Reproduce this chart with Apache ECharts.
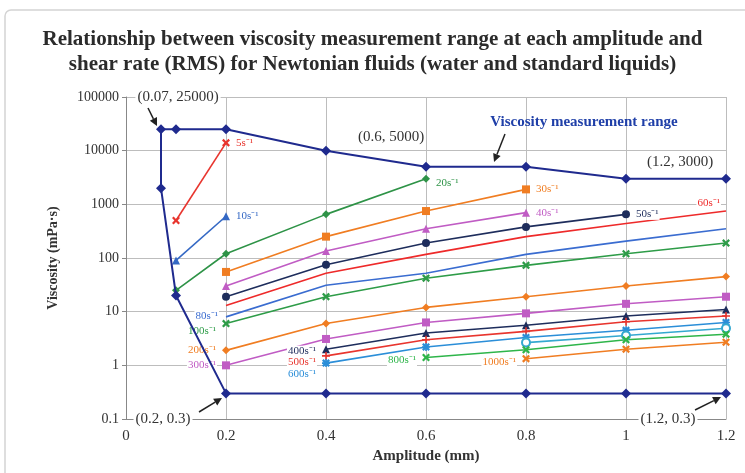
<!DOCTYPE html>
<html>
<head>
<meta charset="utf-8">
<script src="https://cdn.jsdelivr.net/npm/echarts@6/dist/echarts.min.js"></script>
<style>
  html, body { margin: 0; padding: 0; background: #fff; }
  #chart { width: 745px; height: 473px; }
</style>
</head>
<body>
<div id="chart"></div>
<script>
// measurement range boundary (upper and lower edge)
var rangeUpperX = [0.07, 0.1, 0.2, 0.4, 0.6, 0.8, 1.0, 1.2];
var rangeUpperY = [25000, 25000, 25000, 10000, 5000, 5000, 3000, 3000];
var rangeLowerX = [0.07, 0.1, 0.2, 0.4, 0.6, 0.8, 1.0, 1.2];
var rangeLowerY = [2000, 20, 0.3, 0.3, 0.3, 0.3, 0.3, 0.3];

// shear rate curves, one value per amplitude (null = not measured)
var amplitudes = [0.1, 0.2, 0.4, 0.6, 0.8, 1.0, 1.2];
var v5    = [500, 14000, null, null, null, null, null];
var v10   = [90, 600, null, null, null, null, null];
var v20   = [25, 120, 650, 3000, null, null, null];
var v30   = [null, 55, 250, 750, 1900, null, null];
var v40   = [null, 30, 135, 350, 700, null, null];
var v50   = [null, 19, 75, 190, 380, 650, null];
var v60   = [null, 13, 52, 117, 250, 440, 750];
var v80   = [null, 8, 31, 52, 117, 206, 350];
var v100  = [null, 6, 19, 42, 73, 120, 190];
var v200  = [null, 1.9, 6, 12, 19, 30, 45];
var v300  = [null, 1, 3.1, 6.3, 9.3, 14, 19];
var v400  = [null, null, 2, 4, 5.6, 8.3, 11];
var v500  = [null, null, 1.5, 3, 4.3, 6.5, 8.3];
var v600  = [null, null, 1.1, 2.2, 3.3, 4.5, 6.3];
var v700  = [null, null, null, null, 2.65, 3.6, 4.9];
var v800  = [null, null, null, 1.4, 1.95, 3.0, 3.8];
var v1000 = [null, null, null, null, 1.33, 2, 2.7];

var X_MARK = 'path://M2,0L5,3L8,0L10,2L7,5L10,8L8,10L5,7L2,10L0,8L3,5L0,2Z';
var PLUS_MARK = 'path://M4,0H6V4H10V6H6V10H4V6H0V4H4Z';
var STAR_MARK = 'path://M2,0L5,3L8,0L10,2L7,5L10,8L8,10L5,7L2,10L0,8L3,5L0,2Z M4,0H6V10H4Z M0,4H10V6H0Z';

var FONT = 'Liberation Serif';

function rateSeries(name, values, color, symbol, labelIdx, labelPos, labelOffset) {
    var noMark = symbol === 'none';
    var data = [];
    amplitudes.forEach(function(a, i) {
        if (values[i] == null) return;
        var item = { value: [a, values[i]] };
        if (i === labelIdx) {
            item.label = {
                show: true,
                position: labelPos,
                offset: labelOffset || [0, 0],
                formatter: name,
                color: color,
                fontFamily: FONT,
                fontSize: 11,
                backgroundColor: '#fff',
                padding: [0, 1]
            };
        }
        data.push(item);
    });
    return {
        name: name,
        type: 'line',
        data: data,
        symbol: noMark ? 'circle' : symbol,
        symbolSize: noMark ? 0.01 : 8,
        showSymbol: true,
        lineStyle: { color: color, width: 1.6 },
        itemStyle: { color: color },
        emphasis: { disabled: true },
        z: 3
    };
}

var boundary = [];
for (var i = rangeUpperX.length - 1; i >= 0; i--) boundary.push([rangeUpperX[i], rangeUpperY[i]]);
for (var j = 0; j < rangeLowerX.length; j++) boundary.push([rangeLowerX[j], rangeLowerY[j]]);

var series = [
    rateSeries('5s⁻¹', v5, '#e8352e', X_MARK, 1, 'right'),
    rateSeries('10s⁻¹', v10, '#3468c4', 'triangle', 1, 'right'),
    rateSeries('20s⁻¹', v20, '#2e9347', 'diamond', 3, 'right', [0, 4]),
    rateSeries('30s⁻¹', v30, '#f07d22', 'rect', 4, 'right'),
    rateSeries('40s⁻¹', v40, '#c05cc4', 'triangle', 4, 'right'),
    rateSeries('50s⁻¹', v50, '#1e2d5c', 'circle', 5, 'right'),
    rateSeries('60s⁻¹', v60, '#ee2a2a', 'none', 6, 'left', [0, -8]),
    rateSeries('80s⁻¹', v80, '#3a6cd0', 'none', 1, 'left', [-2, -1]),
    rateSeries('100s⁻¹', v100, '#2e9c48', X_MARK, 1, 'left', [0, 8]),
    rateSeries('200s⁻¹', v200, '#f07d22', 'diamond', 1, 'left'),
    rateSeries('300s⁻¹', v300, '#c05cc4', 'rect', 1, 'left'),
    rateSeries('400s⁻¹', v400, '#1e2d5c', 'triangle', 2, 'left', [0, 2]),
    rateSeries('500s⁻¹', v500, '#e8352e', PLUS_MARK, 2, 'left', [0, 6]),
    rateSeries('600s⁻¹', v600, '#2b8ed8', STAR_MARK, 2, 'left', [0, 11]),
    rateSeries('700s⁻¹', v700, '#34a8d0', 'emptyCircle', -1),
    rateSeries('800s⁻¹', v800, '#2eb54a', X_MARK, 3, 'left', [0, 3]),
    rateSeries('1000s⁻¹', v1000, '#f07d22', X_MARK, 4, 'left', [0, 3]),
    {
        name: 'Viscosity measurement range',
        type: 'line',
        data: boundary,
        symbol: 'diamond',
        symbolSize: 10,
        lineStyle: { color: '#1f2a8e', width: 2 },
        itemStyle: { color: '#1f2a8e' },
        emphasis: { disabled: true },
        z: 4
    }
];

function arrow(x1, y1, x2, y2) {
    var ang = Math.atan2(y2 - y1, x2 - x1), L = 8, W = 4;
    var bx = x2 - L * Math.cos(ang), by = y2 - L * Math.sin(ang);
    return [
        { type: 'line', shape: { x1: x1, y1: y1, x2: bx, y2: by }, style: { stroke: '#222', lineWidth: 1.5 }, z: 10 },
        { type: 'polygon', shape: { points: [[x2, y2],
            [bx + W * Math.sin(ang), by - W * Math.cos(ang)],
            [bx - W * Math.sin(ang), by + W * Math.cos(ang)]] }, style: { fill: '#222' }, z: 10 }
    ];
}

function note(text, x, y, opts) {
    opts = opts || {};
    return {
        type: 'text', x: x, y: y, z: 10,
        style: {
            text: text, fill: opts.color || '#333', font: (opts.weight || 'normal') + ' ' + (opts.size || 15) + 'px "' + FONT + '"',
            align: 'center', verticalAlign: 'middle',
            backgroundColor: opts.bg ? '#fff' : null, padding: [0, 2]
        }
    };
}

var graphics = [
    { type: 'rect', shape: { x: 5, y: 10, width: 760, height: 480, r: 6 }, style: { fill: null, stroke: '#d4d4d4', lineWidth: 1.5 }, z: -1 },
    note('(0.07, 25000)', 178, 97, { bg: true }),
    note('(0.6, 5000)', 391, 137),
    note('(1.2, 3000)', 680, 162),
    note('Viscosity measurement range', 584, 122, { color: '#1f3fa8', weight: 'bold', size: 15 }),
    note('(0.2, 0.3)', 163, 419, { bg: true }),
    note('(1.2, 0.3)', 668, 419, { bg: true })
].concat(arrow(148, 108, 157, 126))
 .concat(arrow(505, 134, 494, 162))
 .concat(arrow(199, 412, 222, 398))
 .concat(arrow(695, 410, 721, 397));

var myChart = echarts.init(document.getElementById('chart'));

var option = {
    animation: false,
    backgroundColor: '#fff',
    title: {
        text: 'Relationship between viscosity measurement range at each amplitude and\nshear rate (RMS) for Newtonian fluids (water and standard liquids)',
        left: 'center',
        top: 22,
        textStyle: { fontFamily: FONT, fontWeight: 'bold', fontSize: 21, lineHeight: 25, color: '#2b2b2b' }
    },
    grid: { left: 126, right: 19, top: 97, bottom: 54 },
    xAxis: {
        type: 'value',
        min: 0,
        max: 1.2,
        interval: 0.2,
        name: 'Amplitude (mm)',
        nameLocation: 'middle',
        nameGap: 30,
        nameTextStyle: { fontFamily: FONT, fontWeight: 'bold', fontSize: 15, color: '#333' },
        axisLine: { lineStyle: { color: '#888' } },
        axisTick: { show: false },
        axisLabel: { fontFamily: FONT, fontSize: 15, color: '#333', margin: 10 },
        splitLine: { lineStyle: { color: '#bdbdbd' } }
    },
    yAxis: {
        type: 'log',
        logBase: 10,
        min: 0.1,
        max: 100000,
        name: 'Viscosity (mPa·s)',
        nameLocation: 'middle',
        nameGap: 66,
        nameTextStyle: { fontFamily: FONT, fontWeight: 'bold', fontSize: 14, color: '#333' },
        axisLine: { show: true, lineStyle: { color: '#888' } },
        axisTick: { show: true, length: 4, lineStyle: { color: '#888' } },
        axisLabel: {
            fontFamily: FONT, fontSize: 14, color: '#333', margin: 7,
            formatter: function(v) { return String(+Number(v).toPrecision(6)); }
        },
        splitLine: { lineStyle: { color: '#bdbdbd' } }
    },
    graphic: graphics,
    series: series
};

myChart.setOption(option);
</script>
</body>
</html>
